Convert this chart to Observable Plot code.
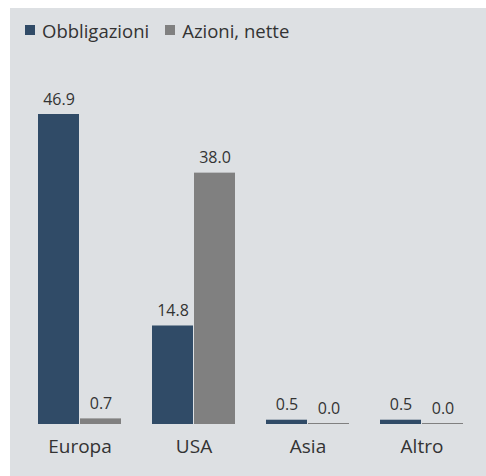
<!DOCTYPE html>
<html>
<head>
<meta charset="utf-8">
<script src="https://cdn.jsdelivr.net/npm/d3@7"></script>
<script src="https://cdn.jsdelivr.net/npm/@observablehq/plot@0.6"></script>
<style>
  html, body { margin: 0; padding: 0; background: #ffffff; width: 486px; height: 476px; overflow: hidden; }
  #panel { position: absolute; left: 10px; top: 8px; width: 476px; height: 468px; background: #dde0e3; font-family: "Open Sans", sans-serif; font-weight: 400; }
  #legend { height: 44px; display: flex; align-items: center; padding-left: 15px; font-size: 18.5px; color: #333; }
  .item { display: flex; align-items: center; margin-right: 16px; }
  .sw { width: 10px; height: 10px; margin-right: 7px; }
  #chart svg { display: block; }
  #chart svg text { font-weight: 400; }
</style>
</head>
<body>
<div id="panel">
  <div id="legend"></div>
  <div id="chart"></div>
</div>
<script>
const regions = ["Europa", "USA", "Asia", "Altro"];
const seriesNames = ["Obbligazioni", "Azioni, nette"];
const obbligazioni = [46.9, 14.8, 0.5, 0.5];
const azioni = [0.7, 38.0, 0.0, 0.0];
const colors = ["#304b67", "#808080"];

const data = [];
regions.forEach((r, i) => {
  data.push({region: r, series: seriesNames[0], value: obbligazioni[i]});
  data.push({region: r, series: seriesNames[1], value: azioni[i]});
});

const legend = document.getElementById("legend");
seriesNames.forEach((s, i) => {
  const it = document.createElement("div");
  it.className = "item";
  const sw = document.createElement("div");
  sw.className = "sw";
  sw.style.background = colors[i];
  const t = document.createElement("span");
  t.textContent = s;
  it.appendChild(sw);
  it.appendChild(t);
  legend.appendChild(it);
});

const chart = Plot.plot({
  width: 476,
  height: 424,
  marginLeft: 26,
  marginRight: 21,
  marginTop: 62,
  marginBottom: 53,
  style: {background: "transparent", fontFamily: "Open Sans", fontSize: "19px", color: "#333"},
  fx: {domain: regions, paddingInner: 0.256, paddingOuter: 0, axis: "bottom", tickSize: 0, tickPadding: 16, label: null},
  x: {domain: seriesNames, paddingInner: 0.02, paddingOuter: 0, axis: null},
  y: {domain: [0, 46.9], axis: null},
  color: {domain: seriesNames, range: colors},
  marks: [
    Plot.tickY(data, {fx: "region", x: "series", y: d => 0, stroke: "series", strokeWidth: 1}),
    Plot.barY(data, {fx: "region", x: "series", y: "value", fill: "series"}),
    Plot.text(data, {fx: "region", x: "series", y: "value", text: d => d.value.toFixed(1), dy: -10, lineAnchor: "bottom", fontSize: 16, fill: "#333"})
  ]
});
document.getElementById("chart").appendChild(chart);
</script>
</body>
</html>
